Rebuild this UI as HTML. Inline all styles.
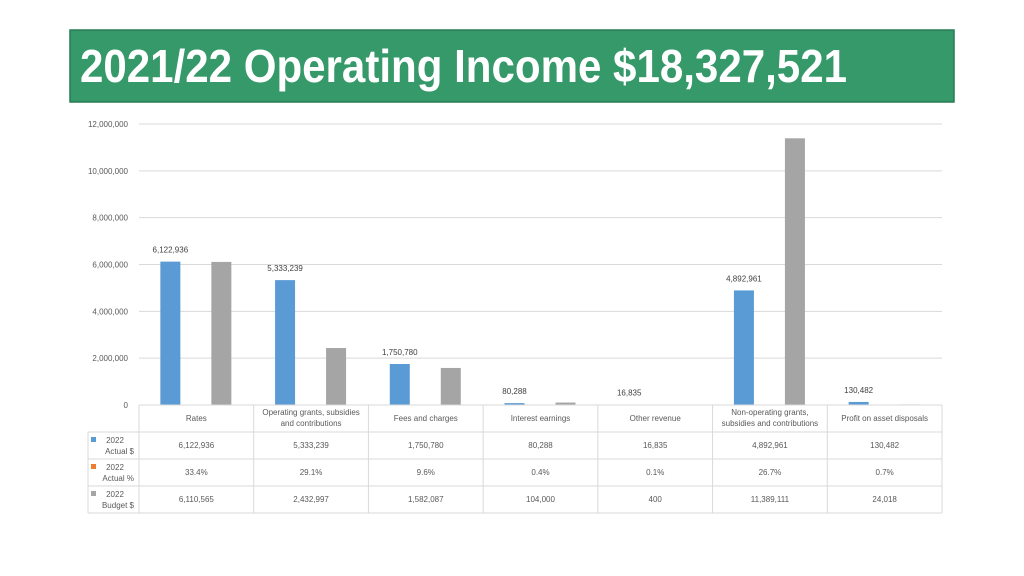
<!DOCTYPE html>
<html><head><meta charset="utf-8"><style>
body{margin:0;background:#fff;}
svg{display:block;font-family:"Liberation Sans",sans-serif;}
</style></head><body>
<svg id="c" width="1024" height="576">
<rect x="70" y="30" width="884" height="72" fill="#35996a" stroke="#2a7a52" stroke-width="1.5"/>
<text x="80" y="82" font-size="46" font-weight="bold" fill="#fff" textLength="767" lengthAdjust="spacingAndGlyphs">2021/22 Operating Income $18,327,521</text>
<g id="grid"></g><g id="bars"></g><g id="table"></g>
</svg>
<script>
const categories=[["Rates"],["Operating grants, subsidies","and contributions"],["Fees and charges"],["Interest earnings"],["Other revenue"],["Non-operating grants,","subsidies and contributions"],["Profit on asset disposals"]];
const actual=[6122936,5333239,1750780,80288,16835,4892961,130482];
const actualPct=["33.4%","29.1%","9.6%","0.4%","0.1%","26.7%","0.7%"];
const budget=[6110565,2432997,1582087,104000,400,11389111,24018];
const yTicks=[0,2000000,4000000,6000000,8000000,10000000,12000000];
const NS="http://www.w3.org/2000/svg";
const x0=139,x1=942,y0=405,yTop=124,yMax=12000000;
const cw=(x1-x0)/categories.length;
const Y=v=>y0-(v/yMax)*(y0-yTop);
const X=i=>x0+cw*i+cw/2;
const fmt=v=>v.toLocaleString("en-US");
function mk(p,t,a,txt){const e=document.createElementNS(NS,t);for(const k in a)e.setAttribute(k,a[k]);if(txt!==undefined)e.textContent=txt;p.appendChild(e);return e;}
const grid=document.getElementById("grid"),bars=document.getElementById("bars"),tbl=document.getElementById("table");
yTicks.forEach(v=>{
  if(v>0){const l=mk(grid,"line",{x1:x0,x2:x1,y1:Y(v),y2:Y(v),stroke:"#d9d9d9"});
  
  }
  const t=mk(grid,"text",{x:128,y:Y(v)+3,"font-size":8,fill:"#595959","text-anchor":"end"},fmt(v));
  
  
});
categories.forEach((c,i)=>{
  const cx=X(i);
  const b=mk(bars,"rect",{x:cx-36,y:Y(actual[i]),width:20,height:y0-Y(actual[i]),fill:"#5b9bd5"});
  
  
  const g=mk(bars,"rect",{x:cx+15,y:Y(budget[i]),width:20,height:y0-Y(budget[i]),fill:"#a5a5a5"});
  
  
  const lb=mk(bars,"text",{x:cx-26,y:Y(actual[i])-9,"font-size":8,fill:"#404040","text-anchor":"middle"},fmt(actual[i]));
  
  
});
// table
const rows=[405,432,459,486,513];
const ln=(a,b,c,d)=>{const l=mk(tbl,"line",{x1:a,y1:b,x2:c,y2:d,stroke:"#d9d9d9"});};
ln(x0,405,x1,405);
for(let r=1;r<5;r++)ln(88,rows[r],x1,rows[r]);
for(let i=0;i<=categories.length;i++)ln(x0+cw*i,405,x0+cw*i,513);
ln(88,432,88,513);
categories.forEach((c,i)=>{
  c.forEach((s,k)=>{const t=mk(tbl,"text",{x:X(i),y:(c.length==1?421:415)+k*11,"font-size":8,fill:"#595959","text-anchor":"middle"},s);
  
  });
  [fmt(actual[i]),actualPct[i],fmt(budget[i])].forEach((s,r)=>{
    const t=mk(tbl,"text",{x:X(i),y:rows[r+1]+16,"font-size":8,fill:"#595959","text-anchor":"middle"},s);
    
    
  });
});
const leg=[["#5b9bd5","Actual $"],["#ed7d31","Actual %"],["#a5a5a5","Budget $"]];
leg.forEach((l,r)=>{
  const y=rows[r+1];
  const s=mk(tbl,"rect",{x:91,y:y+5,width:5,height:5,fill:l[0]});
  
  
  const t1=mk(tbl,"text",{x:115,y:y+11,"font-size":8,fill:"#595959","text-anchor":"middle"},"2022");
  
  
  const t2=mk(tbl,"text",{x:134,y:y+22,"font-size":8,fill:"#595959","text-anchor":"end"},l[1]);
  
  
});
</script>
</body></html>
